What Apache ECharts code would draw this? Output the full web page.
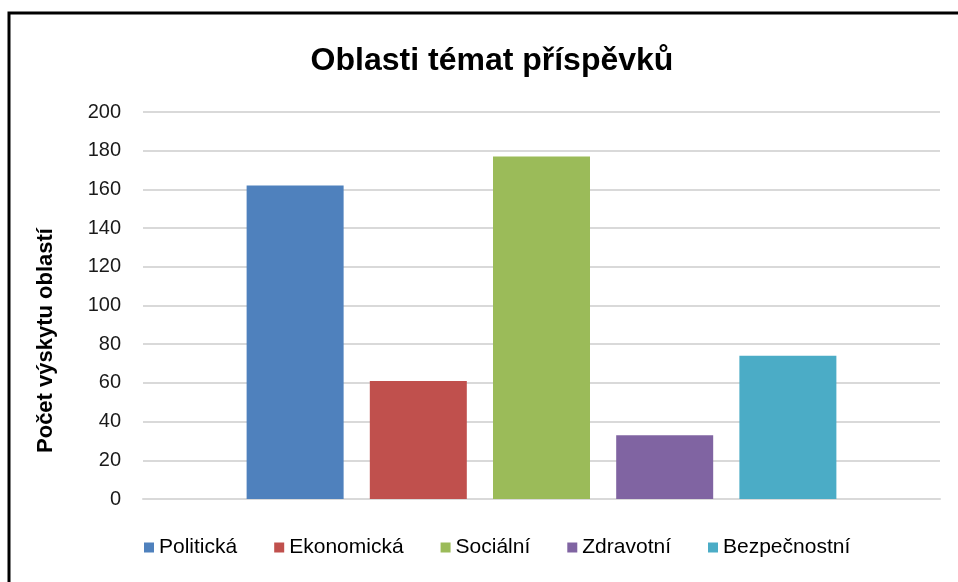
<!DOCTYPE html>
<html>
<head>
<meta charset="utf-8">
<script src="https://cdn.jsdelivr.net/npm/echarts@6/dist/echarts.min.js"></script>
<style>
html,body{margin:0;padding:0;background:#fff;}
#chart{width:958px;height:582px;}
</style>
</head>
<body>
<div id="chart"></div>
<script>
const titleText = 'Oblasti témat příspěvků';
const yAxisTitle = 'Počet výskytu oblastí';
const seriesNames = ['Politická', 'Ekonomická', 'Sociální', 'Zdravotní', 'Bezpečnostní'];
const seriesValues = [162, 61, 177, 33, 74];
const seriesColors = ['#4F81BD', '#C0504D', '#9BBB59', '#8064A2', '#4BACC6'];
const categories = [''];
const yMin = 0, yMax = 200, yStep = 20;

const FONT = 'Liberation Sans, Arial, sans-serif';
const chart = echarts.init(document.getElementById('chart'), null, {renderer: 'canvas'});

const series = seriesNames.map((name, i) => ({
  name: name,
  type: 'bar',
  data: [seriesValues[i]],
  barWidth: 97,
  barGap: '27%',
  itemStyle: {color: seriesColors[i]},
  emphasis: {disabled: true}
}));

chart.setOption({
  animation: false,
  backgroundColor: '#fff',
  title: {
    text: titleText,
    left: 487,
    textAlign: 'center',
    top: 40,
    textStyle: {fontFamily: FONT, fontSize: 32, fontWeight: 'bold', color: '#000'}
  },
  legend: {
    data: seriesNames,
    bottom: 19,
    left: 139,
    icon: 'rect',
    itemWidth: 10,
    itemHeight: 10,
    itemGap: 37,
    textStyle: {fontFamily: FONT, fontSize: 21, color: '#000'}
  },
  grid: {left: 143, right: 18, top: 112, bottom: 83, containLabel: false},
  xAxis: {
    type: 'category',
    data: categories,
    axisLine: {show: true, lineStyle: {color: '#D9D9D9', width: 2}},
    axisTick: {show: false},
    axisLabel: {show: false}
  },
  yAxis: {
    type: 'value',
    min: yMin,
    max: yMax,
    interval: yStep,
    name: yAxisTitle,
    nameLocation: 'middle',
    nameGap: 86,
    nameRotate: 90,
    nameTextStyle: {fontFamily: FONT, fontSize: 22, fontWeight: 'bold', color: '#000', padding: [0, 70, 0, 0]},
    axisLine: {show: false},
    axisTick: {show: false},
    axisLabel: {margin: 22, fontFamily: FONT, fontSize: 20, color: '#1a1a1a'},
    splitLine: {show: true, lineStyle: {color: '#D9D9D9', width: 2}}
  },
  graphic: [{
    type: 'rect',
    silent: true,
    shape: {x: 9, y: 13, width: 1000, height: 1000},
    style: {fill: 'none', stroke: '#000', lineWidth: 3},
    z: 100
  }],
  series: series
});
</script>
</body>
</html>
